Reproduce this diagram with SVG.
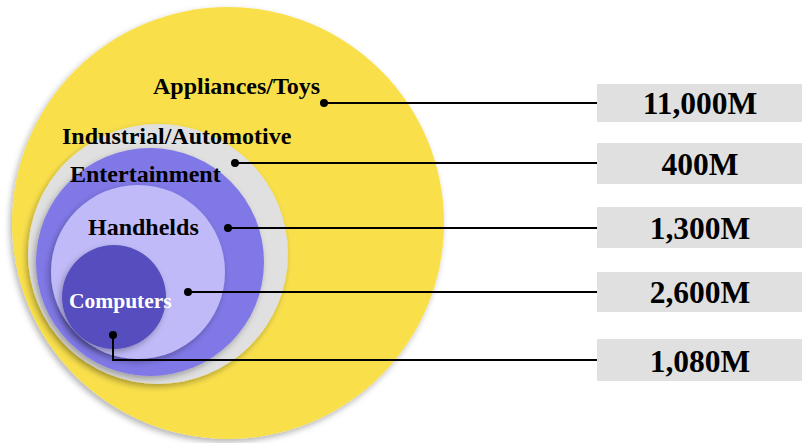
<svg xmlns="http://www.w3.org/2000/svg" width="802" height="443" viewBox="0 0 802 443">
<defs>
<filter id="sh" x="-20%" y="-20%" width="140%" height="140%">
<feDropShadow dx="-2" dy="3" stdDeviation="3" flood-color="#000" flood-opacity="0.3"/>
</filter>
<style>
.lbl{font-family:"Liberation Serif","Times New Roman",serif;font-weight:bold;font-size:24px;fill:#000}
.val{font-family:"Liberation Serif","Times New Roman",serif;font-weight:bold;font-size:31.5px;fill:#000;text-anchor:middle}
.box{fill:#E0E0E0}
.ln{fill:none;stroke:#000;stroke-width:2}
.dot{fill:#000}
</style>
</defs>
<rect width="802" height="443" fill="#fff"/>
<g id="appliances">
<circle cx="228" cy="223" r="216" fill="#F9E04B" filter="url(#sh)"/>
<text class="lbl" x="153" y="94">Appliances/Toys</text>
</g>
<g id="industrial">
<circle cx="158" cy="254" r="130" fill="#E0E0E0" filter="url(#sh)"/>
<text class="lbl" x="62" y="144">Industrial/Automotive</text>
</g>
<g id="entertainment">
<circle cx="150" cy="262" r="114" fill="#8078E6" filter="url(#sh)"/>
<text class="lbl" x="70" y="182">Entertainment</text>
</g>
<g id="handhelds">
<circle cx="138" cy="272" r="87" fill="#C0BBF8" filter="url(#sh)"/>
<text class="lbl" x="88" y="235">Handhelds</text>
</g>
<g id="computers">
<circle cx="114" cy="297" r="52" fill="#574EBE" filter="url(#sh)"/>
<text class="lbl" x="69" y="308" style="font-size:21.5px;fill:#fff">Computers</text>
</g>
<g id="connectors">
<polyline class="ln" points="324,103 597,103"/>
<circle class="dot" cx="324" cy="103" r="4"/>
<polyline class="ln" points="235,163 597,163"/>
<circle class="dot" cx="235" cy="163" r="4"/>
<polyline class="ln" points="228,228 597,228"/>
<circle class="dot" cx="228" cy="228" r="4"/>
<polyline class="ln" points="188,292 597,292"/>
<circle class="dot" cx="188" cy="292" r="4"/>
<polyline class="ln" points="113,335 113,360 597,360"/>
<circle class="dot" cx="113" cy="335" r="4"/>
</g>
<g id="v1"><rect class="box" x="597" y="84" width="205" height="38"/><text class="val" x="700" y="114">11,000M</text></g>
<g id="v2"><rect class="box" x="597" y="143" width="205" height="41"/><text class="val" x="700" y="175">400M</text></g>
<g id="v3"><rect class="box" x="597" y="207" width="205" height="41"/><text class="val" x="700" y="239">1,300M</text></g>
<g id="v4"><rect class="box" x="597" y="272" width="205" height="40"/><text class="val" x="700" y="303">2,600M</text></g>
<g id="v5"><rect class="box" x="597" y="339" width="205" height="42"/><text class="val" x="700" y="372">1,080M</text></g>
</svg>
